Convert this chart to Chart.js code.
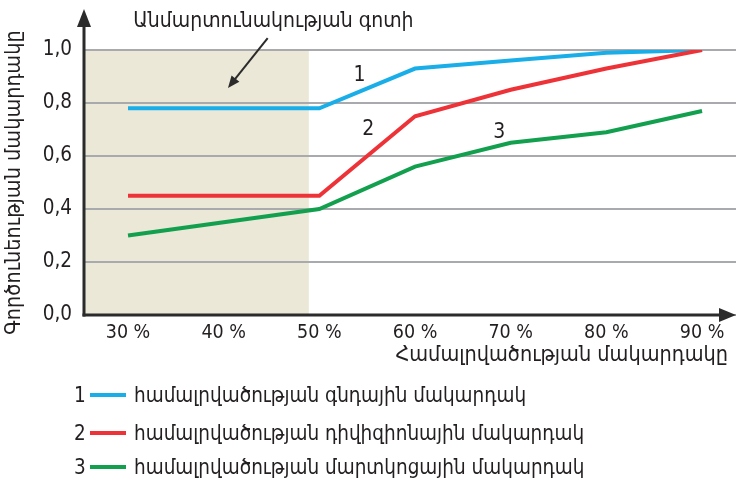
<!DOCTYPE html>
<html>
<head>
<meta charset="utf-8">
<script src="https://cdn.jsdelivr.net/npm/chart.js@4.4.1/dist/chart.umd.min.js"></script>
<style>
  html, body { margin: 0; padding: 0; background: #fff; }
  #wrap { position: relative; width: 736px; height: 479px; }
  canvas { position: absolute; left: 0; top: 0; }
  .leg { position: absolute; left: 0; height: 30px; font-family: "DejaVu Sans Condensed", "DejaVu Sans", sans-serif; font-size: 20.5px; color: #231f20; white-space: nowrap; }
  .leg .num { position: absolute; left: 74px; top: 0; line-height: 30px; }
  .leg .sw { position: absolute; left: 90px; top: 13px; width: 36px; height: 4px; }
  .leg .txt { position: absolute; left: 134px; top: 0; line-height: 30px; }
</style>
</head>
<body>
<div id="wrap">
  <canvas id="c" width="736" height="479"></canvas>
</div>
<script>
// Manning level (%) along the horizontal axis
const categories = [30, 40, 50, 60, 70, 80, 90];

// Activity level for each echelon
const regimentLevel = [0.78, 0.78, 0.78, 0.93, 0.96, 0.99, 1.00];
const divisionLevel = [0.45, 0.45, 0.45, 0.75, 0.85, 0.93, 1.00];
const batteryLevel  = [0.30, 0.35, 0.40, 0.56, 0.65, 0.69, 0.77];

const yTicks = [0, 0.2, 0.4, 0.6, 0.8, 1.0];

const seriesNumbers = ['1', '2', '3'];
const seriesNames = [
  'համալրվածության գնդային մակարդակ',
  'համալրվածության դիվիզիոնային մակարդակ',
  'համալրվածության մարտկոցային մակարդակ'
];
const seriesColors = ['#1aaee9', '#ee3338', '#12a04e'];

const yTitle = 'Գործունեության մակարդակը';
const xTitle = 'Համալրվածության մակարդակը';
const zoneLabel = 'Անմարտունակության գոտի';
// manning level where the non-combat-ready zone ends
const zoneEnd = 48.9;

const FONT = '"DejaVu Sans Condensed", "DejaVu Sans", sans-serif';
const INK = '#231f20';

const seriesValues = [regimentLevel, divisionLevel, batteryLevel];
const datasets = seriesValues.map((vals, i) => ({
  label: seriesNames[i],
  data: categories.map((c, j) => ({ x: c, y: vals[j] })),
  borderColor: seriesColors[i],
  backgroundColor: seriesColors[i],
  borderWidth: 4,
  borderCapStyle: 'butt',
  pointRadius: 0,
  tension: 0,
  order: i === 0 ? 2 : (i === 1 ? 0 : 1)
}));

// Shaded zone behind the lines
const zonePlugin = {
  id: 'zone',
  beforeDatasetsDraw(chart) {
    const { ctx, scales: { x, y }, chartArea } = chart;
    ctx.save();
    ctx.fillStyle = '#ebe8d8';
    const x1 = x.getPixelForValue(zoneEnd);
    const yTop = y.getPixelForValue(1.0);
    ctx.fillRect(chartArea.left, yTop, x1 - chartArea.left, chartArea.bottom - yTop);
    // grid lines over the shading
    ctx.strokeStyle = '#a9aaad';
    ctx.lineWidth = 2;
    yTicks.forEach(v => {
      const py = Math.round(y.getPixelForValue(v));
      ctx.beginPath();
      ctx.moveTo(chartArea.left, py);
      ctx.lineTo(chartArea.right, py);
      ctx.stroke();
    });
    ctx.restore();
  }
};

// Axes with arrow heads, axis title, series numbers and the zone annotation
const decorPlugin = {
  id: 'decor',
  afterDatasetsDraw(chart) {
    const { ctx, scales: { x, y }, chartArea } = chart;
    ctx.save();
    ctx.strokeStyle = '#2b2b2b';
    ctx.fillStyle = '#2b2b2b';
    ctx.lineWidth = 3;
    const ax = chartArea.left;
    const ay = chartArea.bottom;
    // vertical axis
    ctx.beginPath();
    ctx.moveTo(ax, ay + 1.5);
    ctx.lineTo(ax, 24);
    ctx.stroke();
    ctx.beginPath();
    ctx.moveTo(ax, 9);
    ctx.lineTo(ax - 7, 27);
    ctx.lineTo(ax + 7, 27);
    ctx.closePath();
    ctx.fill();
    // horizontal axis
    ctx.beginPath();
    ctx.moveTo(ax - 1.5, ay);
    ctx.lineTo(chart.width - 14, ay);
    ctx.stroke();
    ctx.beginPath();
    ctx.moveTo(chart.width, ay);
    ctx.lineTo(chart.width - 17, ay - 7);
    ctx.lineTo(chart.width - 17, ay + 7);
    ctx.closePath();
    ctx.fill();

    ctx.fillStyle = INK;
    ctx.textBaseline = 'middle';

    // horizontal axis title
    ctx.font = '21.5px ' + FONT;
    ctx.textAlign = 'right';
    ctx.fillText(xTitle, chart.width - 8, ay + 40);

    // series numbers next to the lines
    ctx.font = '21px ' + FONT;
    ctx.textAlign = 'center';
    const numPos = [[54.2, 0.902], [55.1, 0.698], [68.8, 0.69]];
    numPos.forEach((p, i) => {
      ctx.fillText(seriesNumbers[i], x.getPixelForValue(p[0]), y.getPixelForValue(p[1]));
    });

    // zone annotation with arrow
    ctx.font = '21px ' + FONT;
    ctx.fillText(zoneLabel, x.getPixelForValue(45.2), y.getPixelForValue(1.106));
    const sx = x.getPixelForValue(44.6), sy = y.getPixelForValue(1.045);
    const ex = x.getPixelForValue(40.45), ey = y.getPixelForValue(0.857);
    const ang = Math.atan2(ey - sy, ex - sx);
    ctx.strokeStyle = '#2b2b2b';
    ctx.fillStyle = '#2b2b2b';
    ctx.lineWidth = 2;
    ctx.beginPath();
    ctx.moveTo(sx, sy);
    ctx.lineTo(ex - 8 * Math.cos(ang), ey - 8 * Math.sin(ang));
    ctx.stroke();
    ctx.beginPath();
    ctx.moveTo(ex, ey);
    ctx.lineTo(ex - 12 * Math.cos(ang) + 5 * Math.sin(ang), ey - 12 * Math.sin(ang) - 5 * Math.cos(ang));
    ctx.lineTo(ex - 12 * Math.cos(ang) - 5 * Math.sin(ang), ey - 12 * Math.sin(ang) + 5 * Math.cos(ang));
    ctx.closePath();
    ctx.fill();
    ctx.restore();
  }
};

new Chart(document.getElementById('c'), {
  type: 'line',
  data: { datasets },
  plugins: [zonePlugin, decorPlugin],
  options: {
    responsive: false,
    animation: false,
    layout: { padding: { left: 0, top: 50, right: 0, bottom: 104 } },
    plugins: { legend: { display: false }, tooltip: { enabled: false } },
    scales: {
      x: {
        type: 'linear',
        min: 25.4,
        max: 93.55,
        afterBuildTicks: s => { s.ticks = categories.map(v => ({ value: v })); },
        afterFit: s => { s.height = 60; },
        grid: { display: false, drawTicks: false },
        border: { display: false },
        ticks: {
          padding: 6,
          color: INK,
          font: { family: FONT, size: 19.5 },
          callback: v => v + ' %'
        },
        title: { display: false }
      },
      y: {
        min: 0,
        max: 1,
        afterBuildTicks: s => { s.ticks = yTicks.map(v => ({ value: v })); },
        afterFit: s => { s.width = 84; },
        grid: { display: false, drawTicks: false },
        border: { display: false },
        ticks: {
          padding: 12,
          color: INK,
          font: { family: FONT, size: 20.5 },
          callback: v => v.toFixed(1).replace('.', ',')
        },
        title: {
          display: true,
          text: yTitle,
          color: INK,
          font: { family: FONT, size: 21.5 },
          padding: { top: 2, bottom: 0 }
        }
      }
    }
  }
});

// Legend rows
const wrap = document.getElementById('wrap');
const legTops = [380, 418, 452];
seriesNames.forEach((name, i) => {
  const row = document.createElement('div');
  row.className = 'leg';
  row.style.top = legTops[i] + 'px';
  row.innerHTML = '<span class="num"></span><span class="sw"></span><span class="txt"></span>';
  row.querySelector('.num').textContent = seriesNumbers[i];
  row.querySelector('.sw').style.background = seriesColors[i];
  row.querySelector('.txt').textContent = name;
  wrap.appendChild(row);
});
</script>
</body>
</html>
